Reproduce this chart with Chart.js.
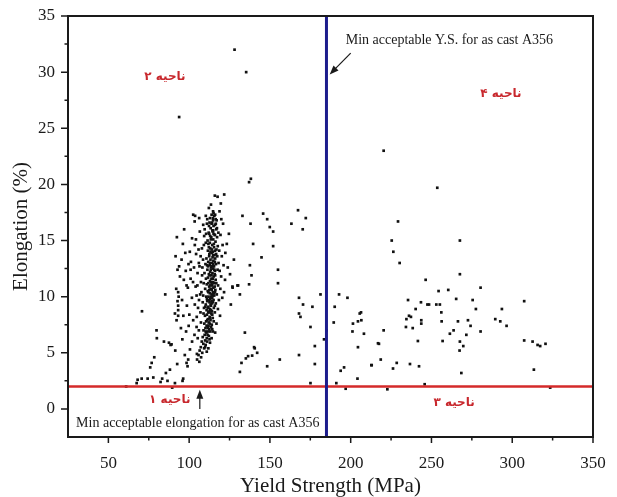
<!DOCTYPE html>
<html>
<head>
<meta charset="utf-8">
<script src="https://cdn.jsdelivr.net/npm/chart.js@4"></script>
<style>
  html, body { margin: 0; padding: 0; background: #fff; }
  #wrap { width: 617px; height: 497px; }
</style>
</head>
<body>
<div id="wrap"><canvas id="ysChart"></canvas></div>
<script>
// yield strength (MPa) vs elongation (%) for each cast sample, [ys, el]
const lowChain = [
  [61.0,2.0],[67.5,2.3],[68.1,2.6],[70.6,2.7],[74.3,2.7],[77.8,2.8],[82.3,2.4],[83.3,2.7],
  [86.6,2.5],[89.5,1.9],[91.2,2.3],[95.9,2.5],[96.3,2.7],[75.9,3.7],[76.8,4.1],[78.4,4.6],
  [85.6,3.2],[88.1,3.5],[92.6,4.0],[91.4,5.2],[84.4,6.0],[87.5,5.9],[88.5,5.7],[89.1,5.75],
  [79.8,7.0],[80.0,6.3],[70.8,8.7],[93.8,26.0]
];

const leftFlank = [
  [96.9,16.0],[92.4,15.3],[106.6,15.8],[109.3,15.4],[112.4,15.6],[103.5,14.6],[91.6,13.6],[95.3,13.3],
  [93.8,12.7],[92.8,12.4],[94.3,11.8],[96.7,11.5],[98.4,11.0],[100.9,11.6],[100.9,12.4],[104.0,10.9],
  [103.5,9.3],[92.0,10.7],[93.5,10.0],[91.2,8.5],[93.2,8.8],[92.8,9.6],[93.2,9.2],[93.2,8.3],
  [92.2,7.9],[93.2,10.4],[85.2,10.2],[102.5,17.3],[103.7,17.2],[103.4,16.7],[102.5,7.9],[104.6,7.3],
  [106.0,13.0],[105.2,12.1],[107.3,11.3],[106.8,10.2],[105.5,9.0],[107.0,8.6],[104.3,13.8],[99.6,12.9],
  [101.7,9.9],[107.9,14.3],[108.2,12.6],[108.7,16.4],[106.2,17.0],[98.4,4.1],[99.0,3.8],[99.4,4.4],
  [97.3,4.8],[100.5,5.3],[101.8,6.0],[103.3,6.6],[104.8,4.9],
  [104.2,15.1],[105.8,14.2],[107.1,13.6],[106.4,12.7],[108.0,11.9],[105.1,11.0],[107.6,10.4],[106.1,9.7],
  [108.4,9.5],[104.7,8.2],[107.3,7.7],[106.0,7.0],[105.3,6.3],[108.6,13.3],[109.1,14.6],[109.5,12.1],
  [109.0,11.2],[108.7,10.1],[109.2,9.0],[110.3,14.8],[110.7,13.4],[110.1,12.9],[110.5,15.6],[111.4,15.0],
  [111.2,16.9],[110.3,17.2],[109.6,16.0],[101.8,15.2],[100.4,14.0],[99.2,10.8],[98.6,9.2],[100.1,8.4],
  [96.1,14.7],[97.6,13.9],[95.6,9.7],[96.4,8.3],[94.9,7.2],[95.8,6.2],[98.1,6.9],[99.7,7.4],
  [97.9,12.3],[101.1,13.1],[102.4,11.3],[103.0,12.6],[104.6,10.1]
];

const mainCluster = [
  [113.5,18.2],[114.8,17.6],[115.6,17.2],[112.9,17.0],[116.4,16.9],[114.2,16.6],[115.1,16.3],[113.3,16.1],
  [116.8,16.0],[114.6,15.8],[112.1,15.7],[115.9,15.5],[113.7,15.3],[114.9,15.1],[116.3,14.9],[112.8,14.8],
  [114.3,14.6],[115.4,14.4],[113.1,14.3],[116.9,14.2],[111.6,14.1],[114.7,14.0],[113.9,13.9],[115.7,13.7],
  [112.4,13.6],[114.5,13.5],[116.1,13.4],[113.2,13.3],[115.0,13.2],[111.8,13.1],[114.1,13.0],[116.6,12.9],
  [112.7,12.8],[115.4,12.7],[113.6,12.6],[114.8,12.5],[111.3,12.4],[116.0,12.3],[113.0,12.2],[114.4,12.1],
  [115.8,12.0],[112.2,12.0],[113.8,11.9],[115.2,11.8],[111.7,11.7],[114.6,11.6],[116.4,11.5],[112.9,11.4],
  [113.5,11.3],[115.6,11.2],[110.9,11.1],[114.2,11.0],[112.4,10.9],[115.0,10.8],[113.3,10.7],[116.2,10.6],
  [111.5,10.5],[114.7,10.4],[112.8,10.3],[113.9,10.2],[115.5,10.1],[110.6,10.0],[112.0,10.0],[114.3,9.9],
  [113.1,9.8],[115.1,9.7],[111.2,9.6],[112.6,9.5],[114.0,9.4],[110.3,9.3],[113.5,9.2],[111.9,9.1],
  [115.3,9.0],[112.9,8.9],[110.8,8.8],[114.1,8.7],[112.3,8.6],[113.7,8.5],[111.0,8.4],[109.8,8.3],
  [112.7,8.2],[114.6,8.1],[111.6,8.0],[113.2,7.9],[110.5,7.8],[112.1,7.7],[109.4,7.6],[111.3,7.4],
  [113.6,7.3],[110.1,7.2],[112.5,7.1],[108.9,7.0],[111.8,6.9],[110.7,6.8],[109.6,6.6],[112.2,6.5],
  [108.4,6.4],[110.9,6.3],[109.9,6.1],[107.8,6.0],[108.8,5.8],[110.2,5.7],[107.2,5.5],[109.3,5.4],
  [106.5,5.2],[108.1,5.0],[105.8,4.8],[107.4,4.6],[104.9,4.4],[106.3,4.2],
  [114.4,15.9],[113.0,15.4],[115.3,14.7],[114.0,14.2],[112.5,13.8],[115.9,13.1],[114.9,12.9],[113.4,12.4],
  [112.6,11.9],[114.9,11.3],[113.1,11.0],[115.8,10.9],[114.0,10.6],[111.9,10.4],[115.2,10.3],[113.6,10.0],
  [112.3,9.7],[114.6,9.5],[113.3,9.3],[111.5,9.0],[112.6,8.7],[114.3,8.4],[113.0,8.1],[111.2,7.9],
  [112.8,7.6],[114.0,7.5],[111.6,7.2],[113.1,6.9],[111.4,6.6],[110.2,6.9],[113.8,11.6],[116.8,11.2],
  [116.7,13.8],[117.3,15.3],[116.0,16.4],[117.6,12.4],[117.1,10.2],[112.2,14.4],[111.1,12.8],[110.4,11.6],
  [109.9,10.7],[110.0,9.1],[108.9,8.5],[114.8,16.8],[113.9,17.3],[112.3,16.3],[117.7,14.5],[118.2,13.0],
  [117.9,11.0],[116.5,9.4],[115.9,8.6],[115.2,7.8],[114.7,6.9],[113.9,6.3],[112.9,5.9],[111.9,5.4],
  [110.9,5.1],
  [111.7,12.7],[114.2,12.7],[115.6,12.4],[112.9,13.0],[114.8,13.7],[113.2,14.0],[116.0,14.1],[111.9,14.7],
  [113.4,15.1],[115.1,15.6],[112.6,16.6],[111.9,11.2],[113.9,11.1],[116.1,11.9],[112.5,10.6],[114.5,10.1],
  [116.0,10.4],[111.0,9.8],[113.9,9.6],[115.9,9.2],[111.8,8.6],[113.5,8.8],[112.0,7.4],[114.3,7.1],
  [110.8,7.4],[112.6,6.2],[111.1,6.0],[109.9,5.5],
  [117.4,13.6],[118.6,14.1],[118.9,12.3],[119.3,10.7],[118.4,9.7],[117.8,8.9],[116.9,7.6],[116.1,6.8],
  [117.2,16.1],[118.1,15.7],[119.9,16.9],[120.7,14.6],[121.3,12.8],[122.2,11.5],[121.6,10.4],[122.4,13.9],
  [123.9,12.6],[124.6,15.6],[118.8,17.6],[119.6,18.3],[117.6,18.9],
  [112.2,17.9],[115.9,19.0],[121.7,19.1],[115.1,17.45],[116.1,17.3],[114.7,17.0],[117.0,16.8],[111.0,16.5],
  [113.9,16.5],[116.5,16.5],[121.0,16.5],[114.9,15.9],[115.9,15.5],[119.4,15.5],[123.3,14.7],[127.7,13.3],
  [125.3,12.0],[126.9,10.8],[130.3,11.0],[131.4,10.2],[125.8,9.3],[133.0,17.2],[120.2,13.6],[119.8,11.8],
  [120.5,9.9],[119.1,8.3]
];

const midScatter = [
  [128.1,32.0],[135.3,30.0],[138.2,20.5],[137.1,20.2],[138.0,16.5],[139.6,14.7],[137.6,12.8],[138.6,11.9],
  [137.1,11.1],[126.8,10.9],[129.9,11.0],[134.5,6.8],[140.2,5.5],[140.6,5.4],[142.1,5.0],[139.0,4.75],
  [136.5,4.7],[135.1,4.5],[132.4,4.1],[131.4,3.3],[148.3,3.8],[156.1,4.4],[145.8,17.4],[148.3,16.9],
  [149.9,16.2],[152.0,15.8],[152.0,14.5],[144.8,13.5],[155.0,12.4],[155.0,11.2],[167.4,17.7],[172.2,17.0],
  [163.3,16.5],[170.3,16.0],[168.0,9.9],[170.5,9.3],[168.0,8.5],[168.9,8.2],[176.3,9.1],[181.3,10.2],
  [175.1,7.3],[177.8,5.6],[168.0,4.8],[177.8,4.0],[175.1,2.3],[183.5,6.2],[185.0,7.0]
];

const highScatter = [
  [192.8,10.2],[198.0,9.9],[190.1,9.1],[189.5,7.7],[206.4,8.6],[205.6,8.5],[201.4,7.6],[204.5,7.8],
  [206.6,7.9],[201.1,6.9],[208.2,6.7],[204.5,5.5],[212.8,3.9],[195.9,3.7],[193.8,3.4],[204.2,2.7],
  [191.1,2.3],[196.9,1.8],[216.9,5.85],[220.4,23.0],[253.6,19.7],[229.3,16.7],[225.4,15.0],[267.6,15.0],
  [226.4,14.0],[230.3,13.0],[267.6,12.0],[246.4,11.5],[280.4,10.8],[254.4,10.5],[260.4,10.6],[235.5,9.7],
  [243.5,9.5],[247.5,9.3],[248.5,9.3],[253.0,9.3],[255.2,9.3],[265.3,9.8],[275.5,9.7],[307.4,9.6],
  [293.6,8.9],[277.5,8.9],[256.1,8.6],[240.2,8.9],[236.1,8.3],[237.3,8.2],[234.5,8.0],[243.7,7.9],
  [243.7,7.6],[256.3,7.8],[266.4,7.8],[272.6,7.9],[274.2,7.4],[289.5,8.0],[292.6,7.8],[296.5,7.4],
  [234.2,7.3],[238.4,7.2],[220.4,7.0],[263.7,7.0],[261.4,6.7],[280.4,6.9],[271.6,6.6],[241.6,6.05],
  [256.9,6.05],[267.6,6.0],[269.7,5.6],[267.4,5.2],[307.4,6.1],[312.6,6.0],[315.7,5.7],[317.3,5.6],
  [320.6,5.8],[217.5,5.8],[218.6,4.4],[213.0,3.9],[228.5,4.1],[226.2,3.6],[236.7,4.0],[242.3,3.8],
  [268.5,3.2],[313.4,3.5],[222.7,1.75],[245.8,2.2],[323.5,1.9]
];

// acceptance limits for as cast A356
const minYS = 185;
const minElong = 2;

const xTicks = [50, 100, 150, 200, 250, 300, 350];
const yTicks = [0, 5, 10, 15, 20, 25, 30, 35];
const xMinor = [75, 125, 175, 225, 275, 325];
const yMinor = [2.5, 7.5, 12.5, 17.5, 22.5, 27.5, 32.5];

const zoneLabels = [
  { text: 'ناحیه ۱', x: 88, y: 0.8 },
  { text: 'ناحیه ۲', x: 85, y: 29.6 },
  { text: 'ناحیه ۳', x: 264, y: 0.5 },
  { text: 'ناحیه ۴', x: 293, y: 28.1 }
];

const serif = "'Liberation Serif', 'Times New Roman', serif";

const points = [].concat(lowChain, leftFlank, mainCluster, midScatter, highScatter)
  .map(p => ({ x: p[0], y: p[1] }));

// frame, tick marks, axis titles and the notes on the plot
const decorations = {
  id: 'decorations',
  afterDraw(chart) {
    const { ctx, chartArea: a, scales: { x, y } } = chart;
    ctx.save();
    ctx.strokeStyle = '#1a1a1a';
    ctx.lineWidth = 2;
    ctx.strokeRect(a.left, a.top, a.right - a.left, a.bottom - a.top);

    ctx.lineWidth = 1.5;
    ctx.beginPath();
    xTicks.forEach(v => { const px = x.getPixelForValue(v); ctx.moveTo(px, a.bottom); ctx.lineTo(px, a.bottom + 6); });
    xMinor.forEach(v => { const px = x.getPixelForValue(v); ctx.moveTo(px, a.bottom); ctx.lineTo(px, a.bottom + 3.5); });
    yTicks.forEach(v => { const py = y.getPixelForValue(v); ctx.moveTo(a.left, py); ctx.lineTo(a.left - 7, py); });
    yMinor.forEach(v => { const py = y.getPixelForValue(v); ctx.moveTo(a.left, py); ctx.lineTo(a.left - 3.5, py); });
    ctx.stroke();

    // axis titles
    ctx.fillStyle = '#1a1a1a';
    ctx.font = '21px ' + serif;
    ctx.textAlign = 'center';
    ctx.textBaseline = 'middle';
    ctx.fillText('Yield Strength (MPa)', (a.left + a.right) / 2, 486);
    ctx.save();
    ctx.translate(21, (a.top + a.bottom) / 2);
    ctx.rotate(-Math.PI / 2);
    ctx.fillText('Elongation (%)', 0, 0);
    ctx.restore();

    // limit notes
    ctx.font = '14px ' + serif;
    ctx.textAlign = 'left';
    ctx.fillText('Min acceptable Y.S. for as cast A356', x.getPixelForValue(196.9), y.getPixelForValue(32.8));
    ctx.fillText('Min acceptable elongation for as cast A356', x.getPixelForValue(30), y.getPixelForValue(-1.25));

    const arrow = (x0, y0, x1, y1) => {
      const ang = Math.atan2(y1 - y0, x1 - x0);
      ctx.beginPath();
      ctx.moveTo(x0, y0);
      ctx.lineTo(x1 - 6 * Math.cos(ang), y1 - 6 * Math.sin(ang));
      ctx.lineWidth = 1.2;
      ctx.stroke();
      ctx.beginPath();
      ctx.moveTo(x1, y1);
      ctx.lineTo(x1 - 9 * Math.cos(ang) + 3.5 * Math.sin(ang), y1 - 9 * Math.sin(ang) - 3.5 * Math.cos(ang));
      ctx.lineTo(x1 - 9 * Math.cos(ang) - 3.5 * Math.sin(ang), y1 - 9 * Math.sin(ang) + 3.5 * Math.cos(ang));
      ctx.closePath();
      ctx.fill();
    };
    arrow(x.getPixelForValue(200), y.getPixelForValue(31.7), x.getPixelForValue(187), y.getPixelForValue(29.8));
    arrow(x.getPixelForValue(106.6), y.getPixelForValue(0), x.getPixelForValue(106.6), y.getPixelForValue(1.7));

    // zone names
    ctx.fillStyle = '#c8282d';
    ctx.font = 'bold 12px "DejaVu Sans", sans-serif';
    ctx.textAlign = 'center';
    ctx.direction = 'rtl';
    zoneLabels.forEach(z => ctx.fillText(z.text, x.getPixelForValue(z.x), y.getPixelForValue(z.y)));
    ctx.restore();
  }
};

const tickFont = { family: serif, size: 17 };

// fixed axis sizes, no extra room for the end labels
const fixX = s => { s.height = 60; s.paddingLeft = 0; s.paddingRight = 0; };
const fixY = s => { s.width = 68; s.paddingTop = 0; s.paddingBottom = 0; };

new Chart(document.getElementById('ysChart'), {
  type: 'scatter',
  data: {
    datasets: [
      {
        data: [{ x: minYS, y: -2.5 }, { x: minYS, y: 35 }],
        showLine: true, borderColor: '#1c1c8c', borderWidth: 3, pointRadius: 0
      },
      {
        data: [{ x: 25, y: minElong }, { x: 350, y: minElong }],
        showLine: true, borderColor: '#d42a2a', borderWidth: 2.5, pointRadius: 0
      },
      {
        data: points,
        pointStyle: 'rect', pointRadius: 1.9, borderWidth: 0,
        backgroundColor: '#111', borderColor: '#111'
      }
    ]
  },
  options: {
    responsive: true,
    maintainAspectRatio: false,
    animation: false,
    layout: { padding: { top: 16, right: 24, left: 0, bottom: 0 } },
    plugins: { legend: { display: false }, tooltip: { enabled: false } },
    scales: {
      x: {
        type: 'linear', min: 25, max: 350,
        grid: { display: false, drawTicks: false }, border: { display: false },
        afterBuildTicks: s => { s.ticks = xTicks.map(v => ({ value: v })); },
        afterFit: fixX,
        ticks: { font: tickFont, color: '#1a1a1a', padding: 16, maxRotation: 0 }
      },
      y: {
        type: 'linear', min: -2.5, max: 35,
        grid: { display: false, drawTicks: false }, border: { display: false },
        afterBuildTicks: s => { s.ticks = yTicks.map(v => ({ value: v })); },
        afterFit: fixY,
        ticks: { font: tickFont, color: '#1a1a1a', padding: 13 }
      }
    }
  },
  plugins: [decorations]
});
</script>
</body>
</html>
